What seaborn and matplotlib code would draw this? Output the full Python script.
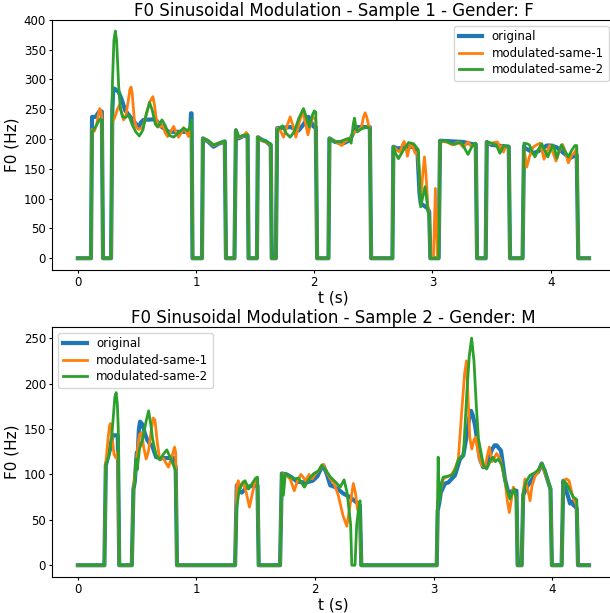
import matplotlib
matplotlib.use("Agg")
import matplotlib.pyplot as plt
import seaborn as sns

# (t [s], F0 [Hz]), one list per curve

# ---- Sample 1 (F) ----
S1_ORIG = [
    (0.0, 0), (0.111, 0), (0.12, 237), (0.15, 237), (0.17, 243), (0.185, 247), (0.203, 246), (0.213, 0),
    (0.281, 0), (0.292, 250), (0.30, 285), (0.32, 283), (0.345, 279), (0.373, 265), (0.40, 248), (0.444, 237),
    (0.48, 228), (0.514, 220), (0.535, 228), (0.556, 232), (0.655, 233), (0.712, 220), (0.768, 212), (0.94, 212),
    (0.952, 216), (0.957, 243), (0.962, 243), (0.970, 0),
    (1.05, 0), (1.058, 201), (1.10, 196), (1.148, 187), (1.19, 192), (1.243, 196), (1.253, 0),
    (1.325, 0), (1.337, 214), (1.36, 201), (1.40, 205), (1.436, 206), (1.444, 0),
    (1.515, 0), (1.523, 203), (1.56, 198), (1.59, 196), (1.627, 190), (1.632, 190), (1.64, 0),
    (1.675, 0), (1.686, 218), (1.80, 220), (1.866, 214), (1.90, 222), (1.951, 237), (1.993, 221), (2.013, 220), (2.024, 0),
    (2.12, 0), (2.128, 201), (2.177, 195), (2.25, 193), (2.30, 198), (2.33, 210), (2.36, 220), (2.47, 220), (2.481, 0),
    (2.661, 0), (2.669, 187), (2.70, 184), (2.78, 186), (2.84, 187), (2.873, 178), (2.89, 110), (2.90, 92),
    (2.957, 84), (2.972, 78), (2.982, 0),
    (3.052, 0), (3.064, 197), (3.26, 195), (3.30, 193), (3.346, 191), (3.366, 191), (3.377, 0),
    (3.45, 0), (3.459, 195), (3.50, 190), (3.60, 188), (3.645, 187), (3.656, 0),
    (3.762, 0), (3.774, 188), (3.783, 184), (3.81, 182), (3.853, 176), (3.90, 180), (3.966, 189), (4.0, 189),
    (4.051, 186), (4.10, 178), (4.163, 168), (4.20, 172), (4.22, 173), (4.233, 0), (4.324, 0),
]
S1_MOD1 = [
    (0.0, 0), (0.111, 0), (0.12, 216), (0.14, 213), (0.16, 225), (0.175, 243), (0.186, 251), (0.196, 245),
    (0.203, 238), (0.213, 0),
    (0.281, 0), (0.292, 229), (0.31, 235), (0.335, 250), (0.353, 257), (0.37, 245), (0.387, 232), (0.405, 238),
    (0.425, 262), (0.44, 283), (0.45, 287), (0.46, 276), (0.478, 232), (0.495, 220), (0.514, 216), (0.551, 220),
    (0.585, 245), (0.607, 262), (0.635, 271), (0.65, 255), (0.664, 232), (0.697, 220), (0.72, 222), (0.74, 210),
    (0.759, 204), (0.785, 212), (0.81, 221), (0.83, 212), (0.852, 203), (0.874, 210), (0.894, 219), (0.915, 212),
    (0.937, 204), (0.955, 222), (0.962, 225), (0.970, 0),
    (1.05, 0), (1.058, 201), (1.10, 197), (1.148, 189), (1.19, 193), (1.243, 195), (1.253, 0),
    (1.325, 0), (1.337, 214), (1.36, 202), (1.40, 205), (1.425, 211), (1.436, 207), (1.444, 0),
    (1.515, 0), (1.523, 204), (1.56, 197), (1.60, 194), (1.632, 191), (1.64, 0),
    (1.675, 0), (1.686, 218), (1.71, 215), (1.74, 203), (1.77, 222), (1.796, 237), (1.82, 222), (1.844, 203),
    (1.87, 225), (1.90, 247), (1.925, 228), (1.946, 207), (1.965, 222), (1.985, 237), (2.013, 232), (2.024, 0),
    (2.12, 0), (2.128, 201), (2.18, 195), (2.233, 189), (2.26, 196), (2.30, 200), (2.34, 212), (2.37, 214),
    (2.40, 220), (2.415, 236), (2.43, 244), (2.445, 236), (2.46, 222), (2.47, 220), (2.481, 0),
    (2.661, 0), (2.669, 187), (2.70, 181), (2.726, 178), (2.745, 190), (2.76, 196), (2.775, 186), (2.788, 171),
    (2.80, 182), (2.816, 193), (2.835, 186), (2.853, 176), (2.873, 178), (2.89, 140), (2.90, 100), (2.915, 135),
    (2.932, 170), (2.945, 140), (2.96, 90), (2.975, 60), (2.982, 0),
    (3.008, 0), (3.025, 117), (3.042, 0), (3.052, 0), (3.064, 197), (3.12, 195), (3.17, 190), (3.22, 195),
    (3.26, 186), (3.30, 195), (3.33, 187), (3.366, 192), (3.377, 0),
    (3.45, 0), (3.459, 195), (3.49, 192), (3.52, 194), (3.55, 195), (3.57, 183), (3.585, 189), (3.60, 178),
    (3.62, 188), (3.645, 187), (3.656, 0),
    (3.762, 0), (3.774, 184), (3.797, 153), (3.82, 170), (3.85, 186), (3.88, 190), (3.91, 193), (3.925, 182),
    (3.943, 166), (3.97, 180), (3.99, 189), (4.02, 177), (4.045, 163), (4.07, 178), (4.10, 191), (4.125, 178),
    (4.149, 160), (4.175, 172), (4.197, 176), (4.22, 184), (4.233, 0), (4.324, 0),
]
S1_MOD2 = [
    (0.0, 0), (0.111, 0), (0.12, 212), (0.15, 220), (0.17, 228), (0.186, 233), (0.203, 232), (0.213, 0),
    (0.281, 0), (0.292, 290), (0.305, 365), (0.317, 381), (0.328, 365), (0.345, 290), (0.36, 250), (0.38, 237),
    (0.40, 236), (0.43, 240), (0.46, 224), (0.49, 212), (0.52, 205), (0.55, 215), (0.58, 243), (0.607, 261),
    (0.63, 248), (0.655, 225), (0.675, 220), (0.712, 232), (0.74, 222), (0.775, 206), (0.81, 203), (0.85, 210),
    (0.894, 218), (0.93, 214), (0.95, 220), (0.962, 232), (0.970, 0),
    (1.05, 0), (1.058, 201), (1.10, 198), (1.148, 190), (1.19, 193), (1.243, 196), (1.253, 0),
    (1.325, 0), (1.337, 216), (1.36, 203), (1.40, 206), (1.436, 207), (1.444, 0),
    (1.515, 0), (1.523, 203), (1.56, 198), (1.60, 195), (1.632, 192), (1.64, 0),
    (1.675, 0), (1.686, 215), (1.731, 222), (1.76, 210), (1.796, 203), (1.83, 212), (1.87, 235), (1.909, 251),
    (1.935, 235), (1.957, 220), (1.98, 238), (2.0, 247), (2.013, 245), (2.024, 0),
    (2.12, 0), (2.128, 201), (2.177, 195), (2.22, 196), (2.26, 199), (2.289, 201), (2.312, 193), (2.33, 225),
    (2.34, 235), (2.35, 222), (2.365, 212), (2.40, 217), (2.44, 220), (2.47, 218), (2.481, 0),
    (2.661, 0), (2.669, 187), (2.69, 175), (2.712, 167), (2.75, 180), (2.797, 194), (2.84, 192), (2.88, 182),
    (2.893, 120), (2.90, 86), (2.92, 105), (2.937, 120), (2.95, 100), (2.96, 80), (2.972, 70), (2.982, 0),
    (3.052, 0), (3.064, 197), (3.107, 197), (3.15, 193), (3.19, 191), (3.24, 195), (3.27, 185), (3.30, 174),
    (3.33, 186), (3.36, 193), (3.366, 193), (3.377, 0),
    (3.45, 0), (3.459, 195), (3.50, 193), (3.54, 190), (3.57, 176), (3.60, 188), (3.645, 188), (3.656, 0),
    (3.762, 0), (3.774, 193), (3.80, 192), (3.82, 190), (3.845, 178), (3.867, 170), (3.895, 182), (3.924, 192),
    (3.95, 180), (3.975, 170), (4.0, 182), (4.02, 190), (4.037, 180), (4.052, 168), (4.07, 180), (4.09, 190),
    (4.12, 180), (4.149, 170), (4.18, 182), (4.205, 189), (4.22, 189), (4.233, 0), (4.324, 0),
]

# ---- Sample 2 (M) ----
S2_ORIG = [
    (0.0, 0), (0.224, 0), (0.236, 110), (0.26, 122), (0.272, 128), (0.285, 138), (0.295, 143), (0.337, 143), (0.349, 0),
    (0.455, 0), (0.469, 84), (0.48, 92), (0.497, 124), (0.505, 122), (0.515, 150), (0.525, 158), (0.545, 155),
    (0.565, 145), (0.585, 138), (0.609, 133), (0.625, 132), (0.66, 119), (0.70, 118), (0.807, 118), (0.825, 108),
    (0.836, 0),
    (1.326, 0), (1.34, 88), (1.36, 82), (1.382, 80), (1.42, 85), (1.45, 87), (1.515, 88), (1.525, 0),
    (1.705, 0), (1.72, 101), (1.76, 100), (1.80, 97), (1.85, 92), (1.92, 91), (1.98, 93), (2.02, 98), (2.056, 108),
    (2.07, 110), (2.10, 100), (2.128, 88), (2.17, 86), (2.238, 79), (2.295, 75), (2.351, 69), (2.378, 66), (2.39, 0),
    (3.026, 0), (3.034, 60), (3.048, 69), (3.06, 80), (3.096, 90), (3.123, 91), (3.18, 99), (3.222, 117), (3.25, 121),
    (3.279, 143), (3.30, 162), (3.315, 170), (3.33, 165), (3.349, 154), (3.37, 135), (3.39, 117), (3.418, 108),
    (3.447, 109), (3.47, 120), (3.494, 128), (3.515, 132), (3.531, 132), (3.568, 126), (3.585, 110), (3.601, 95),
    (3.629, 80), (3.672, 82), (3.698, 82), (3.708, 0),
    (3.742, 0), (3.755, 77), (3.78, 85), (3.812, 91), (3.855, 100), (3.883, 103), (3.911, 112), (3.939, 103),
    (3.965, 92), (3.985, 84), (3.997, 0),
    (4.079, 0), (4.093, 93), (4.11, 85), (4.135, 75), (4.15, 68), (4.165, 70), (4.18, 66), (4.20, 64), (4.207, 62),
    (4.217, 0), (4.31, 0),
]
S2_MOD1 = [
    (0.0, 0), (0.224, 0), (0.236, 112), (0.255, 140), (0.268, 154), (0.275, 156), (0.29, 140), (0.305, 122),
    (0.323, 118), (0.337, 125), (0.349, 0),
    (0.455, 0), (0.469, 84), (0.49, 110), (0.505, 130), (0.52, 144), (0.539, 146), (0.555, 130), (0.576, 117),
    (0.595, 125), (0.615, 145), (0.635, 162), (0.65, 160), (0.67, 135), (0.69, 116), (0.72, 118), (0.745, 112),
    (0.764, 108), (0.79, 118), (0.815, 130), (0.825, 124), (0.836, 0),
    (1.326, 0), (1.34, 88), (1.353, 93), (1.37, 85), (1.393, 92), (1.42, 80), (1.447, 64), (1.47, 78), (1.49, 90),
    (1.515, 95), (1.525, 0),
    (1.705, 0), (1.72, 101), (1.75, 100), (1.79, 95), (1.825, 82), (1.85, 92), (1.88, 100), (1.90, 97), (1.92, 93),
    (1.95, 100), (1.975, 95), (2.0, 100), (2.03, 104), (2.056, 110), (2.07, 111), (2.10, 102), (2.13, 95),
    (2.16, 90), (2.196, 77), (2.235, 55), (2.268, 43), (2.30, 70), (2.323, 90), (2.34, 80), (2.358, 62),
    (2.378, 55), (2.39, 0),
    (3.026, 0), (3.034, 70), (3.05, 78), (3.08, 95), (3.11, 97), (3.153, 100), (3.185, 108), (3.208, 117),
    (3.24, 175), (3.262, 212), (3.277, 225), (3.29, 185), (3.305, 140), (3.322, 128), (3.34, 138), (3.355, 141),
    (3.38, 120), (3.406, 110), (3.432, 108), (3.469, 130), (3.494, 114), (3.531, 123), (3.56, 117), (3.601, 95),
    (3.62, 72), (3.638, 58), (3.655, 72), (3.672, 86), (3.69, 78), (3.698, 72), (3.708, 0),
    (3.742, 0), (3.755, 80), (3.77, 95), (3.79, 85), (3.813, 71), (3.83, 88), (3.855, 98), (3.883, 103),
    (3.911, 112), (3.94, 101), (3.97, 90), (3.985, 84), (3.997, 0),
    (4.079, 0), (4.093, 93), (4.12, 95), (4.142, 93), (4.165, 80), (4.18, 73), (4.20, 68), (4.207, 65),
    (4.217, 0), (4.31, 0),
]
S2_MOD2 = [
    (0.0, 0), (0.224, 0), (0.236, 110), (0.26, 120), (0.285, 140), (0.30, 165), (0.312, 185), (0.323, 190),
    (0.333, 178), (0.341, 150), (0.349, 0),
    (0.455, 0), (0.469, 84), (0.48, 90), (0.49, 117), (0.50, 105), (0.52, 128), (0.545, 138), (0.575, 158),
    (0.597, 170), (0.615, 155), (0.63, 139), (0.66, 121), (0.694, 116), (0.72, 122), (0.75, 127), (0.775, 120),
    (0.80, 112), (0.825, 104), (0.836, 0),
    (1.326, 0), (1.34, 64), (1.36, 82), (1.385, 90), (1.41, 93), (1.44, 84), (1.47, 90), (1.50, 96), (1.515, 97),
    (1.525, 0),
    (1.705, 0), (1.72, 101), (1.733, 77), (1.75, 101), (1.79, 97), (1.83, 95), (1.86, 96), (1.91, 86), (1.95, 95),
    (1.99, 101), (2.03, 104), (2.056, 110), (2.09, 105), (2.13, 97), (2.17, 92), (2.212, 86), (2.245, 94),
    (2.27, 80), (2.30, 45), (2.31, 0), (2.337, 0), (2.351, 44), (2.365, 60), (2.379, 71), (2.39, 0),
    (3.026, 0), (3.038, 119), (3.048, 70), (3.065, 90), (3.081, 97), (3.12, 98), (3.152, 99), (3.18, 104),
    (3.21, 117), (3.251, 121), (3.28, 190), (3.30, 230), (3.32, 250), (3.34, 225), (3.36, 175), (3.378, 139),
    (3.42, 110), (3.447, 106), (3.475, 114), (3.50, 119), (3.52, 114), (3.545, 117), (3.575, 110), (3.60, 95),
    (3.615, 85), (3.643, 73), (3.665, 80), (3.68, 84), (3.698, 73), (3.708, 0),
    (3.742, 0), (3.755, 80), (3.78, 92), (3.812, 99), (3.855, 102), (3.883, 105), (3.911, 112), (3.939, 104),
    (3.965, 92), (3.985, 84), (3.997, 0),
    (4.079, 0), (4.093, 93), (4.12, 90), (4.15, 82), (4.177, 75), (4.20, 73), (4.207, 72), (4.217, 0), (4.31, 0),
]

LABELS = ["original", "modulated-same-1", "modulated-same-2"]
COLORS = ["tab:blue", "tab:orange", "tab:green"]
WIDTHS = [3.0, 2.0, 2.0]

plt.rcParams.update({
    "xtick.major.size": 2.5, "ytick.major.size": 2.5,
    "xtick.major.pad": 2.0, "ytick.major.pad": 2.0,
    "xtick.labelsize": 8.5, "ytick.labelsize": 8.5,
})


def draw(ax, curves, title, legend_loc):
    for pts, label, color, lw in zip(curves, LABELS, COLORS, WIDTHS):
        t = [p[0] for p in pts]
        f0 = [p[1] for p in pts]
        sns.lineplot(x=t, y=f0, ax=ax, color=color, linewidth=lw, label=label,
                     estimator=None, sort=False)
    ax.set_title(title, fontsize=12, pad=3)
    ax.set_xlabel("t (s)", fontsize=11, labelpad=1)
    ax.set_ylabel("F0 (Hz)", fontsize=11, labelpad=3)
    ax.legend(loc=legend_loc, fontsize=8.5, labelspacing=0.3)


fig = plt.figure(figsize=(6.1, 6.13), dpi=100)
# the right edge of the axes runs past the canvas, as in the reference
ax1 = fig.add_axes([0.0857, 0.5602, 0.9218, 0.4077])
ax2 = fig.add_axes([0.0857, 0.0594, 0.9218, 0.4075])

draw(ax1, [S1_ORIG, S1_MOD1, S1_MOD2], "F0 Sinusoidal Modulation - Sample 1 - Gender: F", "upper right")
draw(ax2, [S2_ORIG, S2_MOD1, S2_MOD2], "F0 Sinusoidal Modulation - Sample 2 - Gender: M", "upper left")

fig.savefig("out.png", dpi=100)
